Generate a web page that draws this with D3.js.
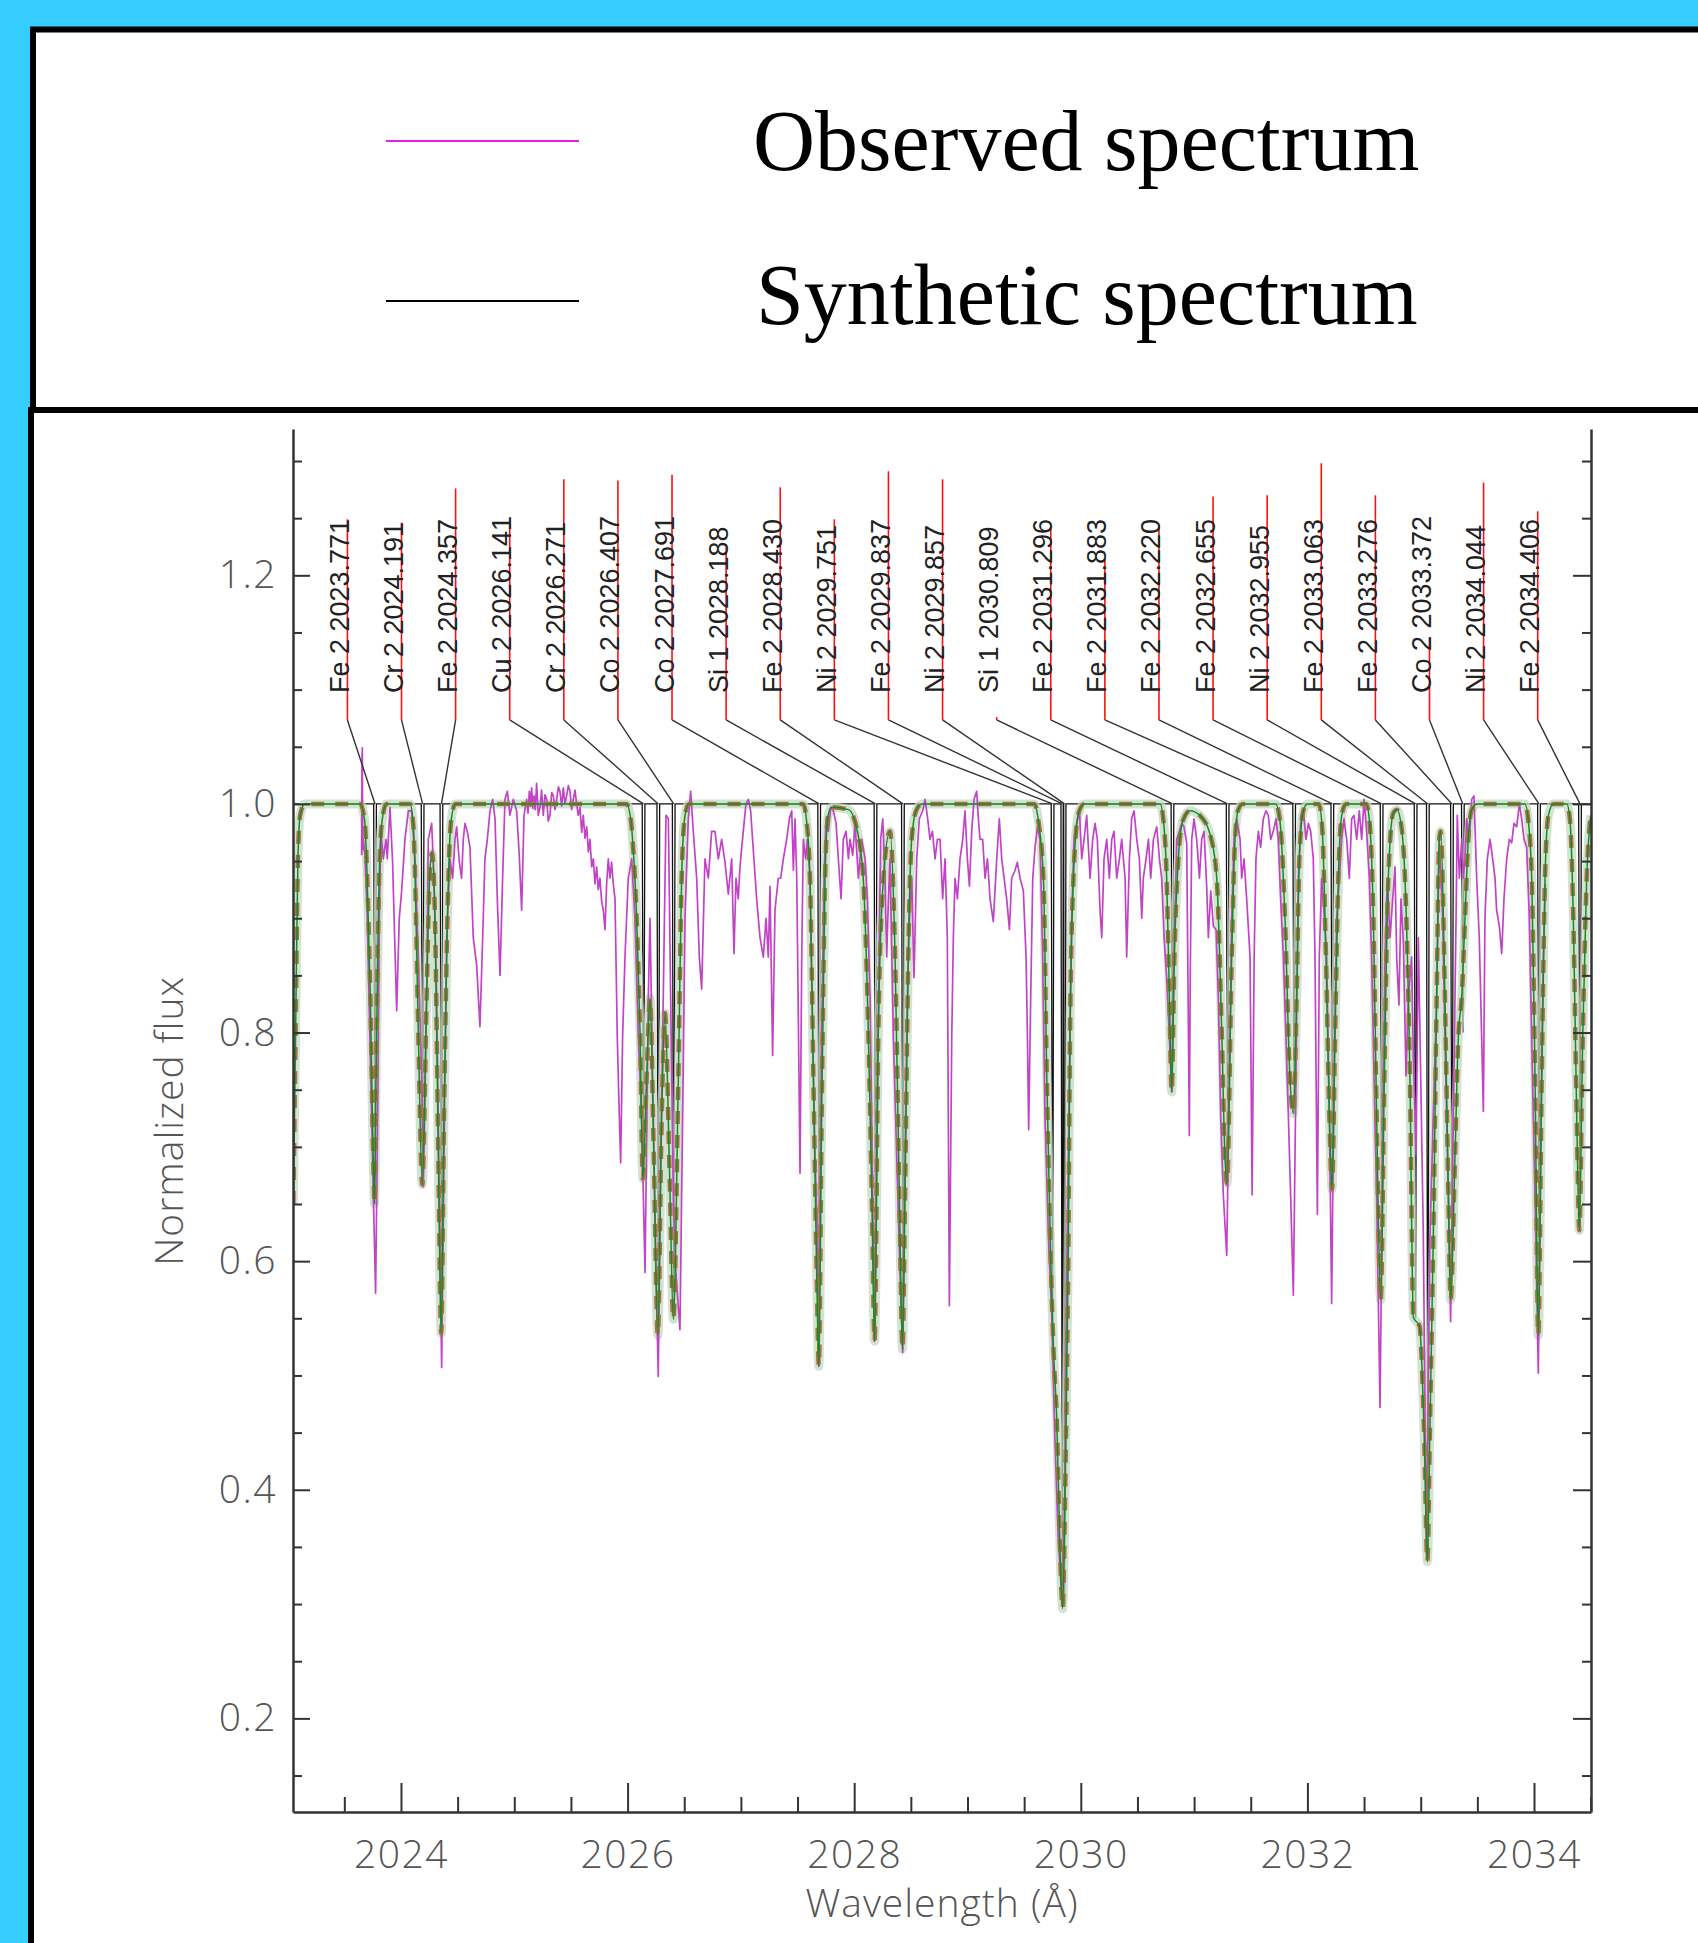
<!DOCTYPE html>
<html>
<head>
<meta charset="utf-8">
<script src="https://cdn.jsdelivr.net/npm/d3@7"></script>
<style>
  body { margin: 0; background: #35ccfe; }
  svg { display: block; }
</style>
</head>
<body>
<svg id="chart" width="1698" height="1943"></svg>
<script>
// ---- data ----
const lineIons = ['Fe 2', 'Cr 2', 'Fe 2', 'Cu 2', 'Cr 2', 'Co 2', 'Co 2', 'Si 1', 'Fe 2', 'Ni 2', 'Fe 2', 'Ni 2',
    'Si 1', 'Fe 2', 'Fe 2', 'Fe 2', 'Fe 2', 'Ni 2', 'Fe 2', 'Fe 2', 'Co 2', 'Ni 2', 'Fe 2'];
const lineWaves = [2023.771, 2024.191, 2024.357, 2026.141, 2026.271, 2026.407, 2027.691, 2028.188, 2028.430,
    2029.751, 2029.837, 2029.857, 2030.809, 2031.296, 2031.883, 2032.220, 2032.655, 2032.955, 2033.063,
    2033.276, 2033.372, 2034.044, 2034.406];
// top of the red marker, in flux units
const markTops = [1.249, 1.246, 1.276, 1.244, 1.284, 1.283, 1.288, 1.227, 1.277, 1.249, 1.291, 1.284,
    1.076, 1.242, 1.214, 1.244, 1.269, 1.270, 1.298, 1.270, 1.146, 1.281, 1.256];
// depth of each unbroadened synthetic line
const synthDepths = [0.65, 0.667, 0.537, 0.672, 0.535, 0.549, 0.508, 0.53, 0.523, 0.55, 0.30, 0.30, 0.748,
    0.668, 0.729, 0.663, 0.566, 0.55, 0.337, 0.566, 0.80, 0.535, 0.627];

const observed = [
    [2023.653, 0.955], [2023.656, 1.04], [2023.659, 1.049], [2023.662, 0.96], [2023.668, 0.969], [2023.682, 0.955],
    [2023.703, 0.90], [2023.726, 0.796], [2023.756, 0.658], [2023.776, 0.572], [2023.794, 0.727], [2023.809, 0.90],
    [2023.823, 0.976], [2023.844, 0.952], [2023.868, 0.969], [2023.879, 0.952], [2023.903, 0.997], [2023.926, 0.949],
    [2023.962, 0.819], [2023.985, 0.90], [2024.006, 0.924], [2024.035, 0.969], [2024.065, 0.994], [2024.094, 0.994],
    [2024.124, 0.952], [2024.153, 0.866], [2024.182, 0.762], [2024.197, 0.665], [2024.227, 0.831], [2024.241, 0.969],
    [2024.271, 0.983], [2024.291, 0.935], [2024.315, 0.831], [2024.338, 0.658], [2024.359, 0.507], [2024.380, 0.693],
    [2024.403, 0.883], [2024.432, 0.952], [2024.456, 0.935], [2024.477, 0.969], [2024.491, 0.980], [2024.515, 0.949],
    [2024.535, 0.935], [2024.550, 0.969], [2024.565, 0.983], [2024.585, 0.976], [2024.609, 0.962], [2024.638, 0.883],
    [2024.668, 0.859], [2024.697, 0.805], [2024.721, 0.883], [2024.741, 0.952], [2024.762, 0.969], [2024.786, 0.994],
    [2024.809, 1.004], [2024.830, 0.987], [2024.850, 0.917], [2024.874, 0.850], [2024.897, 0.935], [2024.918, 1.004],
    [2024.939, 1.011], [2024.962, 0.990], [2024.991, 1.004], [2025.021, 0.994], [2025.044, 0.955], [2025.065, 0.907],
    [2025.086, 0.990], [2025.109, 1.004], [2025.121, 0.992], [2025.133, 1.011], [2025.143, 0.998], [2025.153, 1.014],
    [2025.164, 0.996], [2025.174, 1.007], [2025.185, 0.995], [2025.197, 1.018], [2025.212, 0.990], [2025.227, 0.997],
    [2025.241, 1.012], [2025.256, 0.990], [2025.271, 1.008], [2025.286, 1.004], [2025.300, 0.985], [2025.315, 0.990],
    [2025.330, 1.010], [2025.345, 1.007], [2025.360, 0.995], [2025.374, 1.004], [2025.389, 1.015], [2025.403, 1.011],
    [2025.418, 0.998], [2025.433, 1.014], [2025.447, 1.000], [2025.462, 1.007], [2025.477, 1.016], [2025.492, 1.011],
    [2025.506, 0.995], [2025.521, 1.004], [2025.536, 1.012], [2025.550, 1.0], [2025.565, 0.990], [2025.580, 0.997],
    [2025.595, 0.975], [2025.609, 0.990], [2025.624, 0.970], [2025.639, 0.980], [2025.654, 0.958], [2025.668, 0.969],
    [2025.683, 0.945], [2025.698, 0.952], [2025.712, 0.930], [2025.727, 0.945], [2025.741, 0.925], [2025.756, 0.935],
    [2025.771, 0.915], [2025.786, 0.907], [2025.801, 0.890], [2025.815, 0.930], [2025.830, 0.952], [2025.845, 0.935],
    [2025.859, 0.949], [2025.874, 0.930], [2025.889, 0.917], [2025.909, 0.796], [2025.927, 0.727], [2025.939, 0.686],
    [2025.956, 0.796], [2025.977, 0.866], [2026.006, 0.935], [2026.036, 0.952], [2026.065, 0.90], [2026.095, 0.796],
    [2026.124, 0.727], [2026.154, 0.590], [2026.183, 0.831], [2026.198, 0.90], [2026.221, 0.762], [2026.251, 0.589],
    [2026.271, 0.499], [2026.292, 0.693], [2026.315, 0.831], [2026.339, 0.99], [2026.360, 0.987], [2026.380, 0.831],
    [2026.404, 0.658], [2026.427, 0.589], [2026.462, 0.540], [2026.486, 0.727], [2026.507, 0.90], [2026.536, 0.987],
    [2026.557, 1.011], [2026.580, 0.976], [2026.610, 0.935], [2026.633, 0.866], [2026.654, 0.838], [2026.683, 0.952],
    [2026.713, 0.935], [2026.742, 0.976], [2026.771, 0.976], [2026.801, 0.952], [2026.830, 0.969], [2026.860, 0.949],
    [2026.889, 0.921], [2026.919, 0.952], [2026.939, 0.869], [2026.957, 0.935], [2026.977, 0.917], [2026.992, 0.945],
    [2027.021, 0.976], [2027.045, 1.0], [2027.066, 1.004], [2027.086, 0.994], [2027.110, 0.959], [2027.139, 0.917],
    [2027.169, 0.883], [2027.198, 0.866], [2027.222, 0.90], [2027.242, 0.866], [2027.257, 0.928], [2027.280, 0.780],
    [2027.301, 0.907], [2027.330, 0.935], [2027.351, 0.935], [2027.375, 0.952], [2027.404, 0.969], [2027.428, 0.987],
    [2027.449, 0.994], [2027.463, 0.942], [2027.478, 0.987], [2027.493, 0.935], [2027.507, 0.814], [2027.522, 0.677],
    [2027.537, 0.866], [2027.551, 0.969], [2027.572, 0.952], [2027.587, 0.969], [2027.610, 0.935], [2027.634, 0.796],
    [2027.654, 0.693], [2027.675, 0.623], [2027.687, 0.508], [2027.713, 0.796], [2027.734, 0.935], [2027.751, 0.987],
    [2027.772, 0.976], [2027.793, 0.997], [2027.816, 0.994], [2027.840, 0.983], [2027.860, 0.952], [2027.884, 0.917],
    [2027.904, 0.969], [2027.928, 0.976], [2027.949, 0.952], [2027.963, 0.969], [2027.987, 0.955], [2028.007, 0.983],
    [2028.037, 0.935], [2028.066, 0.969], [2028.096, 0.952], [2028.116, 0.917], [2028.140, 0.831], [2028.163, 0.658],
    [2028.178, 0.530], [2028.199, 0.693], [2028.219, 0.866], [2028.234, 0.969], [2028.252, 0.987], [2028.272, 0.935],
    [2028.287, 0.866], [2028.302, 0.917], [2028.316, 0.952], [2028.346, 0.796], [2028.375, 0.693], [2028.405, 0.589],
    [2028.428, 0.520], [2028.449, 0.693], [2028.469, 0.831], [2028.487, 0.90], [2028.508, 0.935], [2028.528, 0.848],
    [2028.552, 0.952], [2028.575, 0.987], [2028.605, 0.994], [2028.625, 1.004], [2028.649, 0.987], [2028.669, 0.969],
    [2028.690, 0.976], [2028.714, 0.952], [2028.734, 0.969], [2028.758, 0.969], [2028.781, 0.917], [2028.802, 0.952],
    [2028.822, 0.883], [2028.840, 0.561], [2028.861, 0.796], [2028.875, 0.883], [2028.890, 0.935], [2028.911, 0.917],
    [2028.934, 0.952], [2028.958, 0.969], [2028.978, 0.994], [2028.999, 0.952], [2029.017, 0.928], [2029.037, 0.976],
    [2029.058, 1.004], [2029.081, 1.011], [2029.096, 0.987], [2029.111, 0.969], [2029.134, 0.969], [2029.155, 0.935],
    [2029.176, 0.952], [2029.199, 0.917], [2029.228, 0.897], [2029.258, 0.952], [2029.281, 0.987], [2029.302, 0.952],
    [2029.323, 0.935], [2029.346, 0.917], [2029.370, 0.890], [2029.390, 0.935], [2029.420, 0.942], [2029.440, 0.949],
    [2029.464, 0.935], [2029.493, 0.924], [2029.517, 0.866], [2029.529, 0.796], [2029.540, 0.715], [2029.558, 0.831],
    [2029.576, 0.935], [2029.596, 0.962], [2029.617, 0.980], [2029.640, 0.969], [2029.664, 0.866], [2029.684, 0.727],
    [2029.714, 0.623], [2029.743, 0.554], [2029.770, 0.450], [2029.800, 0.360], [2029.835, 0.300], [2029.860, 0.400],
    [2029.876, 0.589], [2029.899, 0.762], [2029.920, 0.90], [2029.940, 0.969], [2029.964, 0.983], [2029.988, 0.994],
    [2030.008, 0.952], [2030.029, 0.969], [2030.052, 0.990], [2030.082, 0.935], [2030.105, 0.969], [2030.126, 0.983],
    [2030.146, 0.969], [2030.170, 0.907], [2030.185, 0.883], [2030.205, 0.952], [2030.229, 0.969], [2030.252, 0.935],
    [2030.273, 0.969], [2030.293, 0.976], [2030.317, 0.935], [2030.341, 0.952], [2030.361, 0.969], [2030.391, 0.935],
    [2030.405, 0.866], [2030.429, 0.952], [2030.449, 0.987], [2030.470, 0.994], [2030.494, 0.969], [2030.517, 0.952],
    [2030.538, 0.90], [2030.552, 0.935], [2030.576, 0.952], [2030.597, 0.969], [2030.617, 0.935], [2030.641, 0.969],
    [2030.670, 0.980], [2030.694, 0.952], [2030.714, 0.935], [2030.735, 0.883], [2030.758, 0.848], [2030.782, 0.796],
    [2030.802, 0.748], [2030.823, 0.866], [2030.847, 0.969], [2030.870, 0.976], [2030.891, 0.983], [2030.911, 0.980],
    [2030.935, 0.966], [2030.950, 0.80], [2030.958, 0.710], [2030.966, 0.85], [2030.979, 0.969], [2030.999, 0.987],
    [2031.023, 0.969], [2031.047, 0.935], [2031.067, 0.969], [2031.088, 0.976], [2031.111, 0.928], [2031.126, 0.883],
    [2031.147, 0.924], [2031.170, 0.893], [2031.194, 0.890], [2031.214, 0.831], [2031.235, 0.727], [2031.258, 0.658],
    [2031.288, 0.605], [2031.311, 0.762], [2031.332, 0.90], [2031.353, 0.969], [2031.376, 0.987], [2031.406, 0.969],
    [2031.420, 0.935], [2031.441, 0.952], [2031.464, 0.917], [2031.494, 0.866], [2031.512, 0.658], [2031.530, 0.866],
    [2031.546, 0.952], [2031.567, 0.976], [2031.587, 0.962], [2031.611, 0.987], [2031.634, 0.994], [2031.655, 0.990],
    [2031.676, 0.969], [2031.699, 0.976], [2031.723, 0.987], [2031.743, 0.969], [2031.764, 0.917], [2031.788, 0.866],
    [2031.811, 0.796], [2031.832, 0.727], [2031.852, 0.658], [2031.876, 0.570], [2031.899, 0.762], [2031.920, 0.935],
    [2031.940, 0.983], [2031.964, 0.994], [2031.988, 0.969], [2032.008, 0.983], [2032.029, 0.976], [2032.052, 0.952],
    [2032.067, 0.866], [2032.088, 0.641], [2032.105, 0.866], [2032.126, 0.935], [2032.146, 0.907], [2032.170, 0.866],
    [2032.194, 0.727], [2032.214, 0.563], [2032.235, 0.762], [2032.258, 0.90], [2032.282, 0.935], [2032.302, 0.969],
    [2032.323, 0.987], [2032.347, 0.969], [2032.370, 0.935], [2032.391, 0.987], [2032.411, 0.990], [2032.435, 0.969],
    [2032.458, 0.994], [2032.479, 0.969], [2032.500, 1.004], [2032.523, 0.976], [2032.547, 0.935], [2032.567, 0.866],
    [2032.588, 0.762], [2032.611, 0.658], [2032.641, 0.472], [2032.664, 0.693], [2032.685, 0.866], [2032.705, 0.935],
    [2032.729, 0.883], [2032.753, 0.917], [2032.773, 0.945], [2032.788, 0.866], [2032.808, 0.824], [2032.826, 0.917],
    [2032.847, 0.879], [2032.870, 0.762], [2032.891, 0.831], [2032.920, 0.866], [2032.935, 0.779], [2032.959, 0.693],
    [2032.979, 0.883], [2033.000, 0.762], [2033.023, 0.623], [2033.050, 0.345], [2033.082, 0.623], [2033.111, 0.727],
    [2033.141, 0.831], [2033.164, 0.969], [2033.194, 0.90], [2033.214, 0.796], [2033.244, 0.658], [2033.264, 0.547],
    [2033.288, 0.727], [2033.312, 0.90], [2033.323, 0.990], [2033.341, 0.935], [2033.362, 0.969], [2033.376, 0.935],
    [2033.391, 0.952], [2033.406, 0.987], [2033.429, 0.969], [2033.450, 1.004], [2033.470, 1.007], [2033.494, 0.935],
    [2033.517, 0.883], [2033.538, 0.796], [2033.553, 0.731], [2033.567, 0.90], [2033.588, 0.952], [2033.612, 0.969],
    [2033.635, 0.952], [2033.656, 0.935], [2033.670, 0.907], [2033.694, 0.893], [2033.715, 0.869], [2033.735, 0.917],
    [2033.759, 0.952], [2033.782, 0.969], [2033.803, 0.966], [2033.823, 0.983], [2033.847, 0.980], [2033.871, 1.0],
    [2033.891, 0.987], [2033.912, 0.969], [2033.935, 0.962], [2033.959, 0.90], [2033.979, 0.796], [2034.009, 0.658],
    [2034.038, 0.502], [2034.059, 0.693], [2034.082, 0.866], [2034.100, 0.930]
];

// broadened model profile
const model = [
    [2023.05, 0.65], [2023.07, 0.80], [2023.09, 0.95], [2023.11, 0.99], [2023.15, 1.0],
    [2023.64, 1.0], [2023.68, 0.985], [2023.70, 0.94], [2023.73, 0.83], [2023.755, 0.69], [2023.767, 0.65],
    [2023.78, 0.76], [2023.80, 0.90], [2023.815, 0.96], [2023.84, 0.99], [2023.87, 1.0],
    [2024.08, 1.0], [2024.11, 0.98], [2024.125, 0.935], [2024.153, 0.80], [2024.188, 0.667], [2024.226, 0.83],
    [2024.256, 0.942], [2024.274, 0.957], [2024.30, 0.90], [2024.33, 0.69], [2024.355, 0.537], [2024.38, 0.73],
    [2024.41, 0.90], [2024.44, 0.983], [2024.48, 1.0],
    [2025.99, 1.0], [2026.03, 0.985], [2026.05, 0.96], [2026.08, 0.90], [2026.11, 0.80], [2026.135, 0.672],
    [2026.168, 0.76], [2026.198, 0.83], [2026.23, 0.70], [2026.267, 0.535], [2026.30, 0.72], [2026.33, 0.817],
    [2026.37, 0.68], [2026.404, 0.549], [2026.448, 0.76], [2026.477, 0.935], [2026.507, 0.99], [2026.54, 1.0],
    [2027.55, 1.0], [2027.58, 0.985], [2027.61, 0.935], [2027.64, 0.76], [2027.669, 0.59], [2027.688, 0.508],
    [2027.713, 0.73], [2027.743, 0.935], [2027.77, 0.99], [2027.80, 0.997], [2027.95, 0.995], [2028.03, 0.975],
    [2028.08, 0.935], [2028.125, 0.80], [2028.155, 0.66], [2028.18, 0.53], [2028.213, 0.80], [2028.258, 0.935],
    [2028.316, 0.976], [2028.36, 0.87], [2028.405, 0.62], [2028.426, 0.523], [2028.449, 0.66], [2028.478, 0.87],
    [2028.508, 0.97], [2028.55, 0.995], [2028.60, 1.0],
    [2029.59, 1.0], [2029.626, 0.985], [2029.67, 0.935], [2029.70, 0.76], [2029.735, 0.60], [2029.76, 0.52],
    [2029.787, 0.464], [2029.817, 0.347], [2029.84, 0.296], [2029.865, 0.42], [2029.89, 0.61], [2029.905, 0.80],
    [2029.935, 0.935], [2029.98, 0.992], [2030.03, 1.0],
    [2030.70, 1.0], [2030.73, 0.985], [2030.758, 0.935], [2030.782, 0.83], [2030.802, 0.748], [2030.826, 0.866],
    [2030.861, 0.952], [2030.90, 0.985], [2030.964, 0.994], [2031.05, 0.99], [2031.15, 0.97], [2031.20, 0.935],
    [2031.244, 0.80], [2031.273, 0.69], [2031.29, 0.668], [2031.332, 0.866], [2031.361, 0.969], [2031.39, 0.995],
    [2031.43, 1.0],
    [2031.72, 1.0], [2031.758, 0.985], [2031.802, 0.90], [2031.846, 0.76], [2031.876, 0.729], [2031.905, 0.83],
    [2031.929, 0.952], [2031.964, 0.994], [2032.00, 1.0],
    [2032.10, 1.0], [2032.13, 0.98], [2032.164, 0.866], [2032.194, 0.727], [2032.217, 0.663], [2032.244, 0.796],
    [2032.273, 0.935], [2032.303, 0.99], [2032.34, 1.0],
    [2032.52, 1.0], [2032.552, 0.98], [2032.582, 0.90], [2032.611, 0.727], [2032.647, 0.566], [2032.679, 0.76],
    [2032.714, 0.935], [2032.758, 0.992], [2032.79, 0.995], [2032.83, 0.98], [2032.861, 0.935], [2032.905, 0.76],
    [2032.935, 0.551], [2032.99, 0.543], [2033.03, 0.45], [2033.059, 0.337], [2033.083, 0.464], [2033.111, 0.62],
    [2033.141, 0.83], [2033.164, 0.969], [2033.176, 0.976], [2033.214, 0.83], [2033.244, 0.66], [2033.264, 0.566],
    [2033.303, 0.693], [2033.332, 0.796], [2033.362, 0.831], [2033.391, 0.90], [2033.42, 0.969], [2033.45, 0.995],
    [2033.50, 1.0],
    [2033.92, 1.0], [2033.95, 0.985], [2033.98, 0.935], [2034.009, 0.76], [2034.038, 0.535], [2034.068, 0.76],
    [2034.097, 0.935], [2034.127, 0.99], [2034.17, 1.0], [2034.29, 1.0], [2034.318, 0.985], [2034.347, 0.90],
    [2034.377, 0.727], [2034.40, 0.627], [2034.43, 0.796], [2034.465, 0.935], [2034.50, 0.99]
];

const xTickValues = [2024, 2026, 2028, 2030, 2032, 2034];
const yTickValues = [0.2, 0.4, 0.6, 0.8, 1.0, 1.2];
const legendLabels = ['Observed spectrum', 'Synthetic spectrum'];

// ---- drawing ----
const svg = d3.select('#chart');
const W = 1698, H = 1943;

svg.append('rect').attr('width', W).attr('height', H).attr('fill', '#35ccfe');

// lower white panel and legend box
svg.append('rect')
    .attr('x', 31).attr('y', 410).attr('width', 1720).attr('height', 1600)
    .attr('fill', 'white').attr('stroke', 'black').attr('stroke-width', 6);
svg.append('rect')
    .attr('x', 33).attr('y', 29.5).attr('width', 1720).attr('height', 380.5)
    .attr('fill', 'white').attr('stroke', 'black').attr('stroke-width', 6);

const legendColors = ['#e61ee6', '#000000'];
const legendY = [141, 301];
const legendTextY = [170, 324];
legendLabels.forEach((lab, i) => {
    svg.append('line')
        .attr('x1', 386).attr('x2', 579).attr('y1', legendY[i]).attr('y2', legendY[i])
        .attr('stroke', legendColors[i]).attr('stroke-width', 2);
    svg.append('text')
        .attr('x', i === 0 ? 753 : 756).attr('y', legendTextY[i])
        .attr('font-family', '"Liberation Serif", "Times New Roman", serif')
        .attr('font-size', 86).attr('fill', 'black')
        .text(lab);
});

const x = d3.scaleLinear().domain([2023.047, 2034.503]).range([293, 1591]);
const y = d3.scaleLinear().domain([0.1181, 1.328]).range([1812, 429]);

svg.append('defs').append('clipPath').attr('id', 'plotclip')
    .append('rect').attr('x', 293).attr('y', 429).attr('width', 1298).attr('height', 1383);

const plot = svg.append('g').attr('clip-path', 'url(#plotclip)');

// unbroadened synthetic spectrum: continuum at 1 with narrow lines
const synthPts = [[2023.047, 1]];
lineWaves.forEach((w, i) => {
    synthPts.push([w - 0.012, 1], [w, synthDepths[i]], [w + 0.012, 1]);
});
synthPts.push([2034.503, 1]);
synthPts.sort((a, b) => a[0] - b[0]);

const lin = d3.line().x(d => x(d[0])).y(d => y(d[1]));
const smooth = d3.line().x(d => x(d[0])).y(d => y(d[1])).curve(d3.curveMonotoneX);

plot.append('path').datum(synthPts).attr('d', lin)
    .attr('fill', 'none').attr('stroke', '#111').attr('stroke-width', 1.3);

plot.append('path').datum(model).attr('d', smooth)
    .attr('fill', 'none').attr('stroke', '#c3dac3').attr('stroke-width', 9).attr('opacity', 0.75);

plot.append('path').datum(observed).attr('d', lin)
    .attr('fill', 'none').attr('stroke', '#c244c6').attr('stroke-width', 1.7)
    .attr('stroke-linejoin', 'round');

plot.append('path').datum(model).attr('d', smooth)
    .attr('fill', 'none').attr('stroke', '#a96f48').attr('stroke-width', 4.5)
    .attr('stroke-dasharray', '13,11');

plot.append('path').datum(model).attr('d', smooth)
    .attr('fill', 'none').attr('stroke', '#178a25').attr('stroke-width', 1.5);

// line identifications
const labelX = d3.scalePoint().domain(d3.range(lineWaves.length)).range([347.4, 1537.7]);
const ids = svg.append('g');
lineWaves.forEach((w, i) => {
    const lx = labelX(i);
    ids.append('line')
        .attr('x1', lx).attr('y1', y(1.0735)).attr('x2', x(w)).attr('y2', y(1.0))
        .attr('stroke', '#333').attr('stroke-width', 1.4);
    ids.append('line')
        .attr('x1', lx).attr('x2', lx).attr('y1', y(1.0735)).attr('y2', y(markTops[i]))
        .attr('stroke', '#ff1010').attr('stroke-width', 1.6);
    ids.append('text')
        .attr('transform', `translate(${lx + 1.5},${y(1.097)}) rotate(-90)`)
        .attr('font-family', '"Liberation Sans", Arial, sans-serif')
        .attr('font-size', 27).attr('fill', '#222')
        .text(lineIons[i] + ' ' + w.toFixed(3));
});

// axes
const tickFont = '"Open Sans", "DejaVu Sans", sans-serif';
const xMinor = d3.range(2023.5, 2034.6, 0.5).filter(v => !xTickValues.includes(v));
const yMinor = d3.range(0.15, 1.31, 0.05).map(v => +v.toFixed(2)).filter(v => !yTickValues.some(t => Math.abs(t - v) < 1e-6));

function styleAxis(g) {
    g.selectAll('.domain').attr('stroke', '#333').attr('stroke-width', 2.5);
    g.selectAll('.tick line').attr('stroke', '#333').attr('stroke-width', 2);
    g.selectAll('text')
        .attr('font-family', tickFont).attr('font-weight', 300)
        .attr('font-size', 39).attr('fill', '#555').attr('letter-spacing', 1.5);
}

svg.append('g').attr('transform', 'translate(0,1812)')
    .call(d3.axisBottom(x).tickValues(xTickValues).tickSize(-29).tickSizeOuter(0).tickPadding(28).tickFormat(d3.format('d')))
    .call(styleAxis);
svg.append('g').attr('transform', 'translate(0,1812)')
    .call(d3.axisBottom(x).tickValues(xMinor).tickSize(-15).tickSizeOuter(0).tickFormat(''))
    .call(g => g.select('.domain').remove())
    .call(styleAxis);

svg.append('g').attr('transform', 'translate(293,0)')
    .call(d3.axisLeft(y).tickValues(yTickValues).tickSize(-17).tickSizeOuter(0).tickPadding(16).tickFormat(d3.format('.1f')))
    .call(styleAxis);
svg.append('g').attr('transform', 'translate(293,0)')
    .call(d3.axisLeft(y).tickValues(yMinor).tickSize(-9).tickSizeOuter(0).tickFormat(''))
    .call(g => g.select('.domain').remove())
    .call(styleAxis);

svg.append('g').attr('transform', 'translate(1591,0)')
    .call(d3.axisRight(y).tickValues(yTickValues).tickSize(-18).tickSizeOuter(0).tickFormat(''))
    .call(styleAxis);
svg.append('g').attr('transform', 'translate(1591,0)')
    .call(d3.axisRight(y).tickValues(yMinor).tickSize(-9).tickSizeOuter(0).tickFormat(''))
    .call(g => g.select('.domain').remove())
    .call(styleAxis);

// axis titles
svg.append('text')
    .attr('x', 942).attr('y', 1917).attr('text-anchor', 'middle')
    .attr('font-family', tickFont).attr('font-weight', 300).attr('font-size', 39)
    .attr('fill', '#555').attr('letter-spacing', 1)
    .text('Wavelength (Å)');
svg.append('text')
    .attr('transform', 'translate(183,1121) rotate(-90)').attr('text-anchor', 'middle')
    .attr('font-family', tickFont).attr('font-weight', 300).attr('font-size', 39)
    .attr('fill', '#555').attr('letter-spacing', 1)
    .text('Normalized flux');
</script>
</body>
</html>
